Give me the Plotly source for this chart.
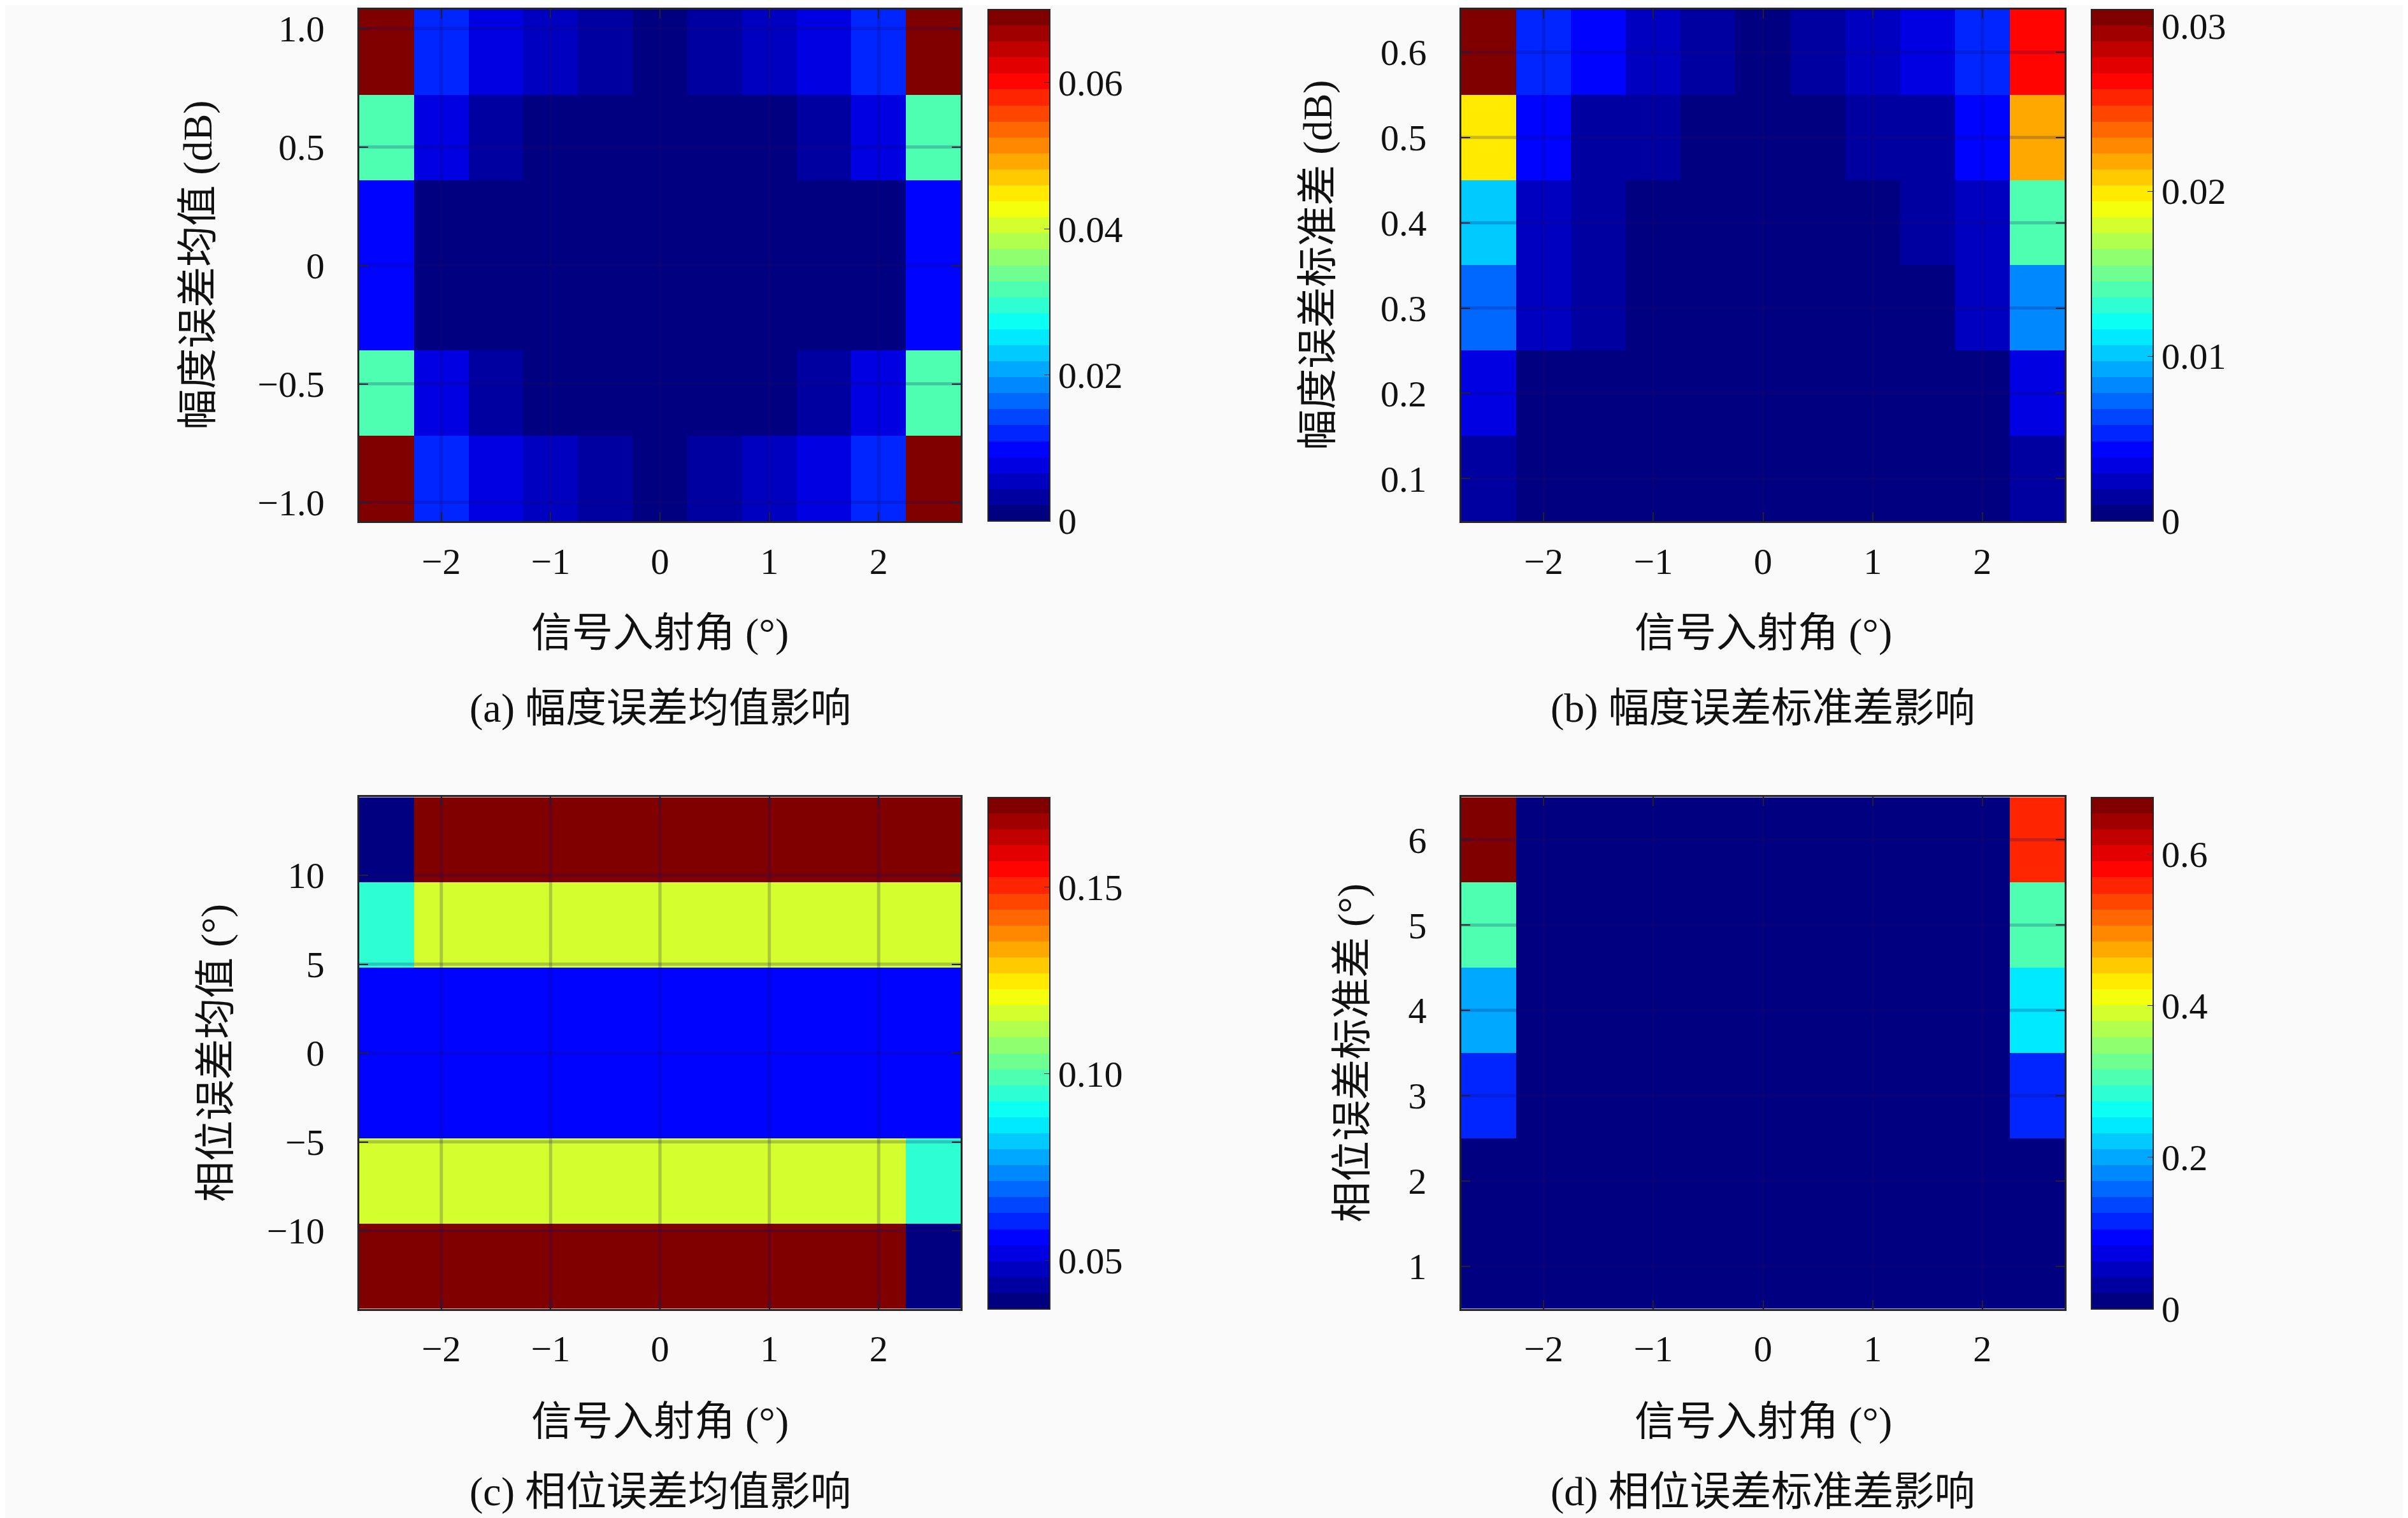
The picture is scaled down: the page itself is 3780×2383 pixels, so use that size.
import plotly.graph_objects as go

W, H = 3780, 2383

# signal incidence angle (deg), shared x of all four maps
angle = [-2.5, -2.0, -1.5, -1.0, -0.5, 0.0, 0.5, 1.0, 1.5, 2.0, 2.5]

# (a) amplitude error mean (dB)
amp_mean = [-0.9, -0.54, -0.18, 0.18, 0.54, 0.9]
z_amp_mean = [
    [0.070, 0.0126, 0.0075, 0.0046, 0.0028, 0.0003, 0.0030, 0.0046, 0.0072, 0.0124, 0.070],
    [0.031, 0.0066, 0.0033, 0.0014, 0.0003, 0.0002, 0.0003, 0.0014, 0.0033, 0.0066, 0.031],
    [0.0088, 0.0008, 0.0003, 0.0003, 0.0002, 0.0002, 0.0002, 0.0003, 0.0003, 0.0008, 0.0088],
    [0.0088, 0.0008, 0.0003, 0.0003, 0.0002, 0.0002, 0.0002, 0.0003, 0.0003, 0.0008, 0.0088],
    [0.031, 0.0066, 0.0033, 0.0014, 0.0003, 0.0002, 0.0003, 0.0014, 0.0033, 0.0066, 0.031],
    [0.070, 0.0126, 0.0075, 0.0046, 0.0028, 0.0003, 0.0030, 0.0046, 0.0072, 0.0124, 0.070],
]

# (b) amplitude error std (dB)
amp_std = [0.1, 0.2, 0.3, 0.4, 0.5, 0.6]
z_amp_std = [
    [0.0017, 0.0006, 0.0004, 0.0004, 0.0004, 0.0003, 0.0004, 0.0004, 0.0004, 0.0006, 0.0017],
    [0.0034, 0.0006, 0.0004, 0.0004, 0.0003, 0.0003, 0.0003, 0.0004, 0.0004, 0.0006, 0.0034],
    [0.0073, 0.0022, 0.0012, 0.0003, 0.0003, 0.0003, 0.0003, 0.0003, 0.0004, 0.0022, 0.0082],
    [0.0101, 0.0029, 0.0019, 0.0004, 0.0003, 0.0003, 0.0003, 0.0008, 0.0019, 0.0029, 0.0136],
    [0.0194, 0.0039, 0.0019, 0.0011, 0.0003, 0.0002, 0.0003, 0.0015, 0.0019, 0.0039, 0.0214],
    [0.0310, 0.0053, 0.0043, 0.0027, 0.0019, 0.0002, 0.0019, 0.0024, 0.0030, 0.0053, 0.0267],
]

# (c) phase error mean (deg)
phase_mean = [-12.0, -7.2, -2.4, 2.4, 7.2, 12.0]
z_phase_mean = [
    [0.174, 0.174, 0.174, 0.174, 0.174, 0.174, 0.174, 0.174, 0.174, 0.174, 0.037],
    [0.117, 0.117, 0.117, 0.117, 0.117, 0.117, 0.117, 0.117, 0.117, 0.117, 0.094],
    [0.057, 0.057, 0.057, 0.057, 0.057, 0.057, 0.057, 0.057, 0.057, 0.057, 0.057],
    [0.057, 0.057, 0.057, 0.057, 0.057, 0.057, 0.057, 0.057, 0.057, 0.057, 0.057],
    [0.094, 0.117, 0.117, 0.117, 0.117, 0.117, 0.117, 0.117, 0.117, 0.117, 0.117],
    [0.037, 0.174, 0.174, 0.174, 0.174, 0.174, 0.174, 0.174, 0.174, 0.174, 0.174],
]

# (d) phase error std (deg)
phase_std = [1, 2, 3, 4, 5, 6]
z_phase_std = [
    [0.008, 0.006, 0.006, 0.006, 0.005, 0.005, 0.005, 0.006, 0.006, 0.006, 0.008],
    [0.012, 0.008, 0.007, 0.007, 0.006, 0.005, 0.006, 0.007, 0.007, 0.008, 0.012],
    [0.125, 0.010, 0.008, 0.008, 0.006, 0.005, 0.006, 0.008, 0.008, 0.010, 0.110],
    [0.200, 0.012, 0.010, 0.009, 0.007, 0.005, 0.007, 0.009, 0.010, 0.012, 0.253],
    [0.300, 0.012, 0.012, 0.013, 0.008, 0.005, 0.008, 0.011, 0.011, 0.012, 0.300],
    [0.675, 0.012, 0.012, 0.016, 0.008, 0.005, 0.008, 0.010, 0.010, 0.012, 0.567],
]

x_ticks = [-2, -1, 0, 1, 2]
x_ticktext = ["\u22122", "\u22121", "0", "1", "2"]

x_title = "信号入射角 (°)"
y_titles = ["幅度误差均值 (dB)", "幅度误差标准差 (dB)", "相位误差均值 (°)", "相位误差标准差 (°)"]
captions = ["(a) 幅度误差均值影响", "(b) 幅度误差标准差影响", "(c) 相位误差均值影响", "(d) 相位误差标准差影响"]

y_ticks = [[-1.0, -0.5, 0, 0.5, 1.0], [0.1, 0.2, 0.3, 0.4, 0.5, 0.6],
           [-10, -5, 0, 5, 10], [1, 2, 3, 4, 5, 6]]
y_ticktext = [["\u22121.0", "\u22120.5", "0", "0.5", "1.0"],
              ["0.1", "0.2", "0.3", "0.4", "0.5", "0.6"],
              ["\u221210", "\u22125", "0", "5", "10"],
              ["1", "2", "3", "4", "5", "6"]]

c_ranges = [(0, 0.07), (0, 0.031), (0.037, 0.174), (0, 0.675)]
c_ticks = [[0, 0.02, 0.04, 0.06], [0, 0.01, 0.02, 0.03], [0.05, 0.10, 0.15], [0, 0.2, 0.4, 0.6]]
c_ticktext = [["0", "0.02", "0.04", "0.06"], ["0", "0.01", "0.02", "0.03"],
              ["0.05", "0.10", "0.15"], ["0", "0.2", "0.4", "0.6"]]


def jet(f):
    clip = lambda v: max(0.0, min(1.0, v))
    r = clip(1.5 - abs(4 * f - 3))
    g = clip(1.5 - abs(4 * f - 2))
    b = clip(1.5 - abs(4 * f - 1))
    return "rgb(%d,%d,%d)" % (round(r * 255), round(g * 255), round(b * 255))


# stepped jet, 32 levels like the MATLAB figure
N = 32
jet_steps = []
for i in range(N):
    c = jet(i / (N - 1))
    jet_steps.append([i / N, c])
    jet_steps.append([(i + 1) / N, c])

FONT = "Liberation Serif, Noto Sans CJK SC"
TICK_SIZE = 58
TITLE_SIZE = 64

# pixel boxes of the four plot areas (left, right, top, bottom)
boxes = [(556, 1500, 5, 810), (2286, 3233, 5, 810),
         (556, 1500, 1244, 2049), (2286, 3233, 1244, 2049)]
cbar_left = [1543, 3275, 1543, 3275]
ytitle_x = [303, 2061, 330, 2114]
xtitle_y = [986, 986, 2226, 2226]
caption_y = [1104, 1104, 2336, 2336]

zs = [z_amp_mean, z_amp_std, z_phase_mean, z_phase_std]
ys = [amp_mean, amp_std, phase_mean, phase_std]

fig = go.Figure()
shapes = []
annotations = []
grid_col = "rgba(25,10,110,0.22)"

for k in range(4):
    l, r, t, b = boxes[k]
    sfx = "" if k == 0 else str(k + 1)
    yv = ys[k]
    dy = yv[1] - yv[0]
    dx = angle[1] - angle[0]
    fig.add_trace(go.Heatmap(
        x=angle, y=yv, z=zs[k],
        xaxis="x" + sfx, yaxis="y" + sfx,
        colorscale=jet_steps, zmin=c_ranges[k][0], zmax=c_ranges[k][1],
        colorbar=dict(
            x=cbar_left[k] / W, xanchor="left", xpad=0, ypad=0,
            y=1 - (t + b) / 2 / H, yanchor="middle",
            len=(b - t) / H, lenmode="fraction",
            thickness=97, thicknessmode="pixels",
            outlinecolor="#262626", outlinewidth=2,
            tickvals=c_ticks[k], ticktext=c_ticktext[k],
            ticks="inside", ticklen=10, tickcolor="#262626",
            tickfont=dict(family=FONT, size=TICK_SIZE, color="#111111"),
        ),
    ))
    ax = dict(
        domain=[l / W, r / W], anchor="y" + sfx,
        range=[angle[0] - dx / 2, angle[-1] + dx / 2],
        tickvals=x_ticks, ticktext=x_ticktext,
        ticks="inside", ticklen=14, tickwidth=2, tickcolor="#262626",
        showline=True, linecolor="#262626", linewidth=3, mirror="ticks",
        showgrid=False, zeroline=False, ticklabelstandoff=10,
        tickfont=dict(family=FONT, size=TICK_SIZE, color="#111111"),
    )
    ay = dict(
        domain=[1 - b / H, 1 - t / H], anchor="x" + sfx,
        range=[yv[0] - dy / 2, yv[-1] + dy / 2],
        tickvals=y_ticks[k], ticktext=y_ticktext[k],
        ticks="inside", ticklen=14, tickwidth=2, tickcolor="#262626",
        showline=True, linecolor="#262626", linewidth=3, mirror="ticks",
        showgrid=False, zeroline=False, ticklabelstandoff=40,
        tickfont=dict(family=FONT, size=TICK_SIZE, color="#111111"),
    )
    fig.update_layout(**{"xaxis" + sfx: ax, "yaxis" + sfx: ay})

    # faint grid drawn on top of the image, as in the MATLAB export
    for xv in x_ticks:
        shapes.append(dict(type="line", xref="x" + sfx, yref="y" + sfx + " domain",
                           x0=xv, x1=xv, y0=0, y1=1,
                           line=dict(color=grid_col, width=5), layer="above"))
    for yt in y_ticks[k]:
        shapes.append(dict(type="line", xref="x" + sfx + " domain", yref="y" + sfx,
                           x0=0, x1=1, y0=yt, y1=yt,
                           line=dict(color=grid_col, width=5), layer="above"))

    cx = (l + r) / 2 / W
    annotations.append(dict(text=y_titles[k], x=ytitle_x[k] / W, y=1 - (t + b) / 2 / H,
                            xref="paper", yref="paper", textangle=-90, showarrow=False,
                            xanchor="center", yanchor="middle",
                            font=dict(family=FONT, size=TITLE_SIZE, color="#111111")))
    annotations.append(dict(text=x_title, x=cx, y=1 - xtitle_y[k] / H,
                            xref="paper", yref="paper", showarrow=False,
                            xanchor="center", yanchor="middle",
                            font=dict(family=FONT, size=TITLE_SIZE, color="#111111")))
    annotations.append(dict(text=captions[k], x=cx, y=1 - caption_y[k] / H,
                            xref="paper", yref="paper", showarrow=False,
                            xanchor="center", yanchor="middle",
                            font=dict(family=FONT, size=TITLE_SIZE, color="#111111")))

fig.update_layout(
    width=W, height=H,
    margin=dict(l=0, r=0, t=0, b=0),
    paper_bgcolor="#fafafa", plot_bgcolor="#fafafa",
    shapes=shapes, annotations=annotations,
    showlegend=False,
)

fig.write_html("out.html")
